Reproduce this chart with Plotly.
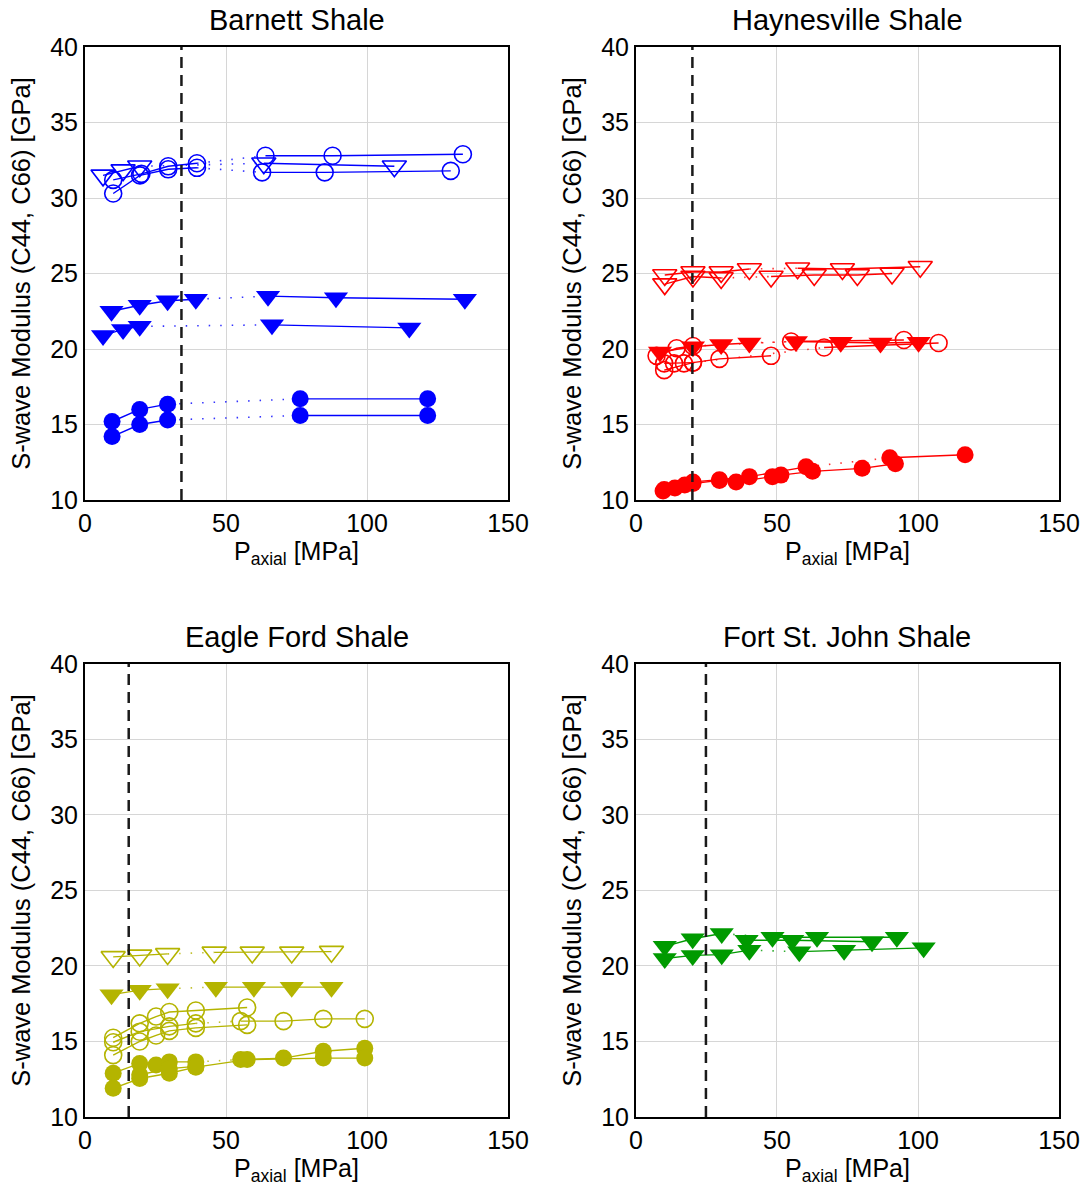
import plotly.graph_objects as go

# ---------------- DATA ----------------
PANEL_TITLES = ["Barnett Shale", "Haynesville Shale", "Eagle Ford Shale", "Fort St. John Shale"]
PANEL_COLORS = ["#0000ff", "#ff0000", "#b4b400", "#009a00"]
DASH_X = [34.2, 20.0, 15.5, 24.8]
X_TICKS = [0, 50, 100, 150]
Y_TICKS = [10, 15, 20, 25, 30, 35, 40]

# Barnett Shale (brk = number of points before the dotted gap; 0 = no gap)
BAR_OC1_X = [10, 19.5, 29.5, 39.7, 62.8, 85, 129.7]
BAR_OC1_Y = [30.3, 31.5, 31.9, 32.0, 31.7, 31.7, 31.8]
BAR_OC1_BRK = 4
BAR_OC2_X = [10, 20, 29.5, 39.7, 64, 87.8, 134]
BAR_OC2_Y = [31.2, 31.6, 32.1, 32.3, 32.8, 32.8, 32.9]
BAR_OC2_BRK = 4
BAR_OT1_X = [6.4, 13.5, 19.4, 63.4, 109.7]
BAR_OT1_Y = [31.5, 31.85, 32.1, 32.3, 32.1]
BAR_OT1_BRK = 3
BAR_FT1_X = [9.4, 19.4, 29.3, 39.3, 64.9, 89, 134.7]
BAR_FT1_Y = [22.5, 22.9, 23.2, 23.3, 23.5, 23.4, 23.3]
BAR_FT1_BRK = 4
BAR_FT2_X = [6.4, 13.5, 19.4, 66.3, 115]
BAR_FT2_Y = [20.9, 21.3, 21.5, 21.6, 21.4]
BAR_FT2_BRK = 3
BAR_FC1_X = [9.6, 19.4, 29.3, 76.3, 121.5]
BAR_FC1_Y = [14.2, 15.0, 15.3, 15.6, 15.6]
BAR_FC1_BRK = 3
BAR_FC2_X = [9.6, 19.4, 29.3, 76.3, 121.5]
BAR_FC2_Y = [15.2, 16.0, 16.35, 16.7, 16.7]
BAR_FC2_BRK = 3

# Haynesville Shale
HAY_OT1_X = [10.2, 20.2, 30.2, 40.2, 57.3, 73.2, 100.8]
HAY_OT1_Y = [24.9, 25.1, 25.1, 25.3, 25.35, 25.3, 25.45]
HAY_OT1_BRK = 4
HAY_OT2_X = [10.2, 20.2, 30.2, 47.9, 63.2, 78.5, 90.8]
HAY_OT2_Y = [24.3, 24.8, 24.7, 24.8, 24.9, 24.9, 25.0]
HAY_OT2_BRK = 3
HAY_FT1_X = [8.5, 20.2, 30.2, 40.2, 56.7, 72.6, 86.7, 100.2]
HAY_FT1_Y = [19.8, 20.15, 20.3, 20.4, 20.5, 20.45, 20.4, 20.45]
HAY_FT1_BRK = 4
HAY_OC1_X = [7.3, 14.4, 20.2, 55, 95]
HAY_OC1_Y = [19.55, 20.05, 20.2, 20.5, 20.6]
HAY_OC1_BRK = 3
HAY_OC2_X = [10, 13.5, 17, 20.2, 66.7, 107.3]
HAY_OC2_Y = [19.05, 19.05, 19.05, 19.1, 20.1, 20.4]
HAY_OC2_BRK = 4
HAY_OC3_X = [10, 20.2, 29.6, 47.9]
HAY_OC3_Y = [18.6, 19.1, 19.35, 19.55]
HAY_OC3_BRK = 0
HAY_FC1_X = [10, 20.2, 29.6, 40.2, 60.3, 90, 116.7]
HAY_FC1_Y = [10.7, 11.2, 11.35, 11.55, 12.2, 12.8, 13.0]
HAY_FC1_BRK = 5
HAY_FC2_X = [9.6, 13.8, 17.3, 20.2, 29.6, 35.5, 48.4, 51.4, 62.6, 80.2, 92]
HAY_FC2_Y = [10.6, 10.8, 11.0, 11.1, 11.3, 11.2, 11.55, 11.65, 11.9, 12.1, 12.4]
HAY_FC2_BRK = 0

# Eagle Ford Shale
EAG_OT1_X = [10, 19.4, 29.3, 45.8, 59.3, 73.3, 87.4]
EAG_OT1_Y = [20.6, 20.7, 20.8, 20.9, 20.9, 20.9, 20.95]
EAG_OT1_BRK = 3
EAG_FT1_X = [9.4, 19.4, 29.3, 46.4, 59.9, 73.3, 87.4]
EAG_FT1_Y = [18.1, 18.4, 18.5, 18.6, 18.6, 18.6, 18.6]
EAG_FT1_BRK = 3
EAG_OC1_X = [10, 19.4, 25.2, 29.9, 39.3, 57.5]
EAG_OC1_Y = [15.25, 16.2, 16.65, 16.95, 17.05, 17.25]
EAG_OC1_BRK = 0
EAG_OC2_X = [10, 19.4, 29.9, 39.3, 55.2, 70.4, 84.5, 99.2]
EAG_OC2_Y = [14.95, 15.65, 16.0, 16.2, 16.35, 16.35, 16.5, 16.5]
EAG_OC2_BRK = 4
EAG_OC3_X = [10, 19.4, 25.2, 29.9, 39.3, 57.5]
EAG_OC3_Y = [14.1, 15.0, 15.4, 15.7, 15.9, 16.1]
EAG_OC3_BRK = 0
EAG_FC1_X = [10, 19.4, 25.2, 29.9, 39.3, 55.2, 70.4, 84.5, 99.2]
EAG_FC1_Y = [12.9, 13.55, 13.45, 13.65, 13.65, 13.8, 13.9, 14.35, 14.55]
EAG_FC1_BRK = 5
EAG_FC2_X = [10, 19.4, 29.9, 39.3, 57.5, 84.5, 99.2]
EAG_FC2_Y = [11.9, 12.55, 12.9, 13.3, 13.8, 13.9, 13.9]
EAG_FC2_BRK = 0
EAG_FC3_X = [19.4, 29.9, 39.3]
EAG_FC3_Y = [12.8, 13.2, 13.35]
EAG_FC3_BRK = 0

# Fort St. John Shale
FSJ_FT1_X = [10.2, 20.1, 30.4, 48.4, 64.2, 92.5]
FSJ_FT1_Y = [21.3, 21.8, 22.15, 21.9, 21.9, 21.9]
FSJ_FT1_BRK = 3
FSJ_FT2_X = [10.2, 20.1, 30.4, 40.2, 57.9, 73.8, 102]
FSJ_FT2_Y = [20.5, 20.7, 20.75, 21.05, 20.95, 21.05, 21.2]
FSJ_FT2_BRK = 4
FSJ_FT3_X = [39.2, 55.4, 83.7]
FSJ_FT3_Y = [21.7, 21.7, 21.6]
FSJ_FT3_BRK = 0

# ---------------- FIGURE ----------------
FONT = "Liberation Sans, Arial, sans-serif"
W, H = 1092, 1191
ML, MR, MT, MB = 85, 26, 47, 74

fig = go.Figure()

XDOM = [[0, 0.4343], [0.5657, 1.0]]
YDOM = [[0.5766, 1.0], [0.0, 0.4234]]

panels = [(0, 0), (0, 1), (1, 0), (1, 1)]

def axis_names(i):
    return ("x" if i == 0 else f"x{i+1}", "y" if i == 0 else f"y{i+1}")

def add_series(i, xs, ys, brk, symbol, filled):
    xa, ya = axis_names(i)
    color = PANEL_COLORS[i]
    size = 17 if "circle" in symbol else 21
    if filled:
        mk = dict(symbol=symbol, size=size, color=color, line=dict(width=0))
    else:
        mk = dict(symbol=symbol + "-open", size=size, color=color,
                  line=dict(width=1.6, color=color))
    segs = [(0, len(xs))] if not brk else [(0, brk), (brk, len(xs))]
    if brk:
        fig.add_trace(go.Scatter(x=[xs[brk - 1], xs[brk]], y=[ys[brk - 1], ys[brk]],
                                 mode="lines", line=dict(color=color, width=1.6, dash="1.5px,10px"),
                                 opacity=0.8,
                                 xaxis=xa, yaxis=ya, showlegend=False, hoverinfo="skip"))
    for a, b in segs:
        fig.add_trace(go.Scatter(x=xs[a:b], y=ys[a:b], mode="lines+markers",
                                 line=dict(color=color, width=1.4), marker=mk,
                                 xaxis=xa, yaxis=ya, showlegend=False))

# Barnett
add_series(0, BAR_OC1_X, BAR_OC1_Y, BAR_OC1_BRK, "circle", False)
add_series(0, BAR_OC2_X, BAR_OC2_Y, BAR_OC2_BRK, "circle", False)
add_series(0, BAR_OT1_X, BAR_OT1_Y, BAR_OT1_BRK, "triangle-down", False)
add_series(0, BAR_FT1_X, BAR_FT1_Y, BAR_FT1_BRK, "triangle-down", True)
add_series(0, BAR_FT2_X, BAR_FT2_Y, BAR_FT2_BRK, "triangle-down", True)
add_series(0, BAR_FC1_X, BAR_FC1_Y, BAR_FC1_BRK, "circle", True)
add_series(0, BAR_FC2_X, BAR_FC2_Y, BAR_FC2_BRK, "circle", True)
# Haynesville
add_series(1, HAY_OT1_X, HAY_OT1_Y, HAY_OT1_BRK, "triangle-down", False)
add_series(1, HAY_OT2_X, HAY_OT2_Y, HAY_OT2_BRK, "triangle-down", False)
add_series(1, HAY_FT1_X, HAY_FT1_Y, HAY_FT1_BRK, "triangle-down", True)
add_series(1, HAY_OC1_X, HAY_OC1_Y, HAY_OC1_BRK, "circle", False)
add_series(1, HAY_OC2_X, HAY_OC2_Y, HAY_OC2_BRK, "circle", False)
add_series(1, HAY_OC3_X, HAY_OC3_Y, HAY_OC3_BRK, "circle", False)
add_series(1, HAY_FC1_X, HAY_FC1_Y, HAY_FC1_BRK, "circle", True)
add_series(1, HAY_FC2_X, HAY_FC2_Y, HAY_FC2_BRK, "circle", True)
# Eagle Ford
add_series(2, EAG_OT1_X, EAG_OT1_Y, EAG_OT1_BRK, "triangle-down", False)
add_series(2, EAG_FT1_X, EAG_FT1_Y, EAG_FT1_BRK, "triangle-down", True)
add_series(2, EAG_OC1_X, EAG_OC1_Y, EAG_OC1_BRK, "circle", False)
add_series(2, EAG_OC2_X, EAG_OC2_Y, EAG_OC2_BRK, "circle", False)
add_series(2, EAG_OC3_X, EAG_OC3_Y, EAG_OC3_BRK, "circle", False)
add_series(2, EAG_FC1_X, EAG_FC1_Y, EAG_FC1_BRK, "circle", True)
add_series(2, EAG_FC2_X, EAG_FC2_Y, EAG_FC2_BRK, "circle", True)
add_series(2, EAG_FC3_X, EAG_FC3_Y, EAG_FC3_BRK, "circle", True)
# Fort St. John
add_series(3, FSJ_FT1_X, FSJ_FT1_Y, FSJ_FT1_BRK, "triangle-down", True)
add_series(3, FSJ_FT2_X, FSJ_FT2_Y, FSJ_FT2_BRK, "triangle-down", True)
add_series(3, FSJ_FT3_X, FSJ_FT3_Y, FSJ_FT3_BRK, "triangle-down", True)

layout = dict(width=W, height=H, margin=dict(l=ML, r=MR, t=MT, b=MB),
              paper_bgcolor="white", plot_bgcolor="white",
              font=dict(family=FONT, color="black", size=24), showlegend=False)

annotations = []
shapes = []
for i, (r, c) in enumerate(panels):
    sfx = "" if i == 0 else str(i + 1)
    xa, ya = axis_names(i)
    layout["xaxis" + sfx] = dict(
        domain=XDOM[c], anchor=ya, range=[0, 150], tickvals=X_TICKS,
        showgrid=True, gridcolor="#d6d6d6", gridwidth=1, zeroline=False,
        showline=True, mirror=True, linecolor="black", linewidth=2, ticks="",
        tickfont=dict(size=25, family=FONT),
        title=dict(text="P<sub>axial</sub> [MPa]", font=dict(size=25, family=FONT), standoff=6),
    )
    layout["yaxis" + sfx] = dict(
        domain=YDOM[r], anchor=xa, range=[10, 40], tickvals=Y_TICKS,
        showgrid=True, gridcolor="#d6d6d6", gridwidth=1, zeroline=False,
        showline=True, mirror=True, linecolor="black", linewidth=2, ticks="",
        tickfont=dict(size=25, family=FONT),
        title=dict(text="S-wave Modulus (C44, C66) [GPa]", font=dict(size=25.5, family=FONT), standoff=12),
    )
    annotations.append(dict(text=PANEL_TITLES[i], x=(XDOM[c][0] + XDOM[c][1]) / 2, y=YDOM[r][1],
                            xref="paper", yref="paper", xanchor="center", yanchor="bottom",
                            yshift=9, showarrow=False, font=dict(size=29, family=FONT)))
    shapes.append(dict(type="line", xref=xa, yref=ya + " domain", x0=DASH_X[i], x1=DASH_X[i],
                       y0=0, y1=1, line=dict(color="#1a1a1a", width=2.5, dash="11px,7px"), layer="above"))

layout["annotations"] = annotations
layout["shapes"] = shapes
fig.update_layout(**layout)

fig.write_html("out.html")
